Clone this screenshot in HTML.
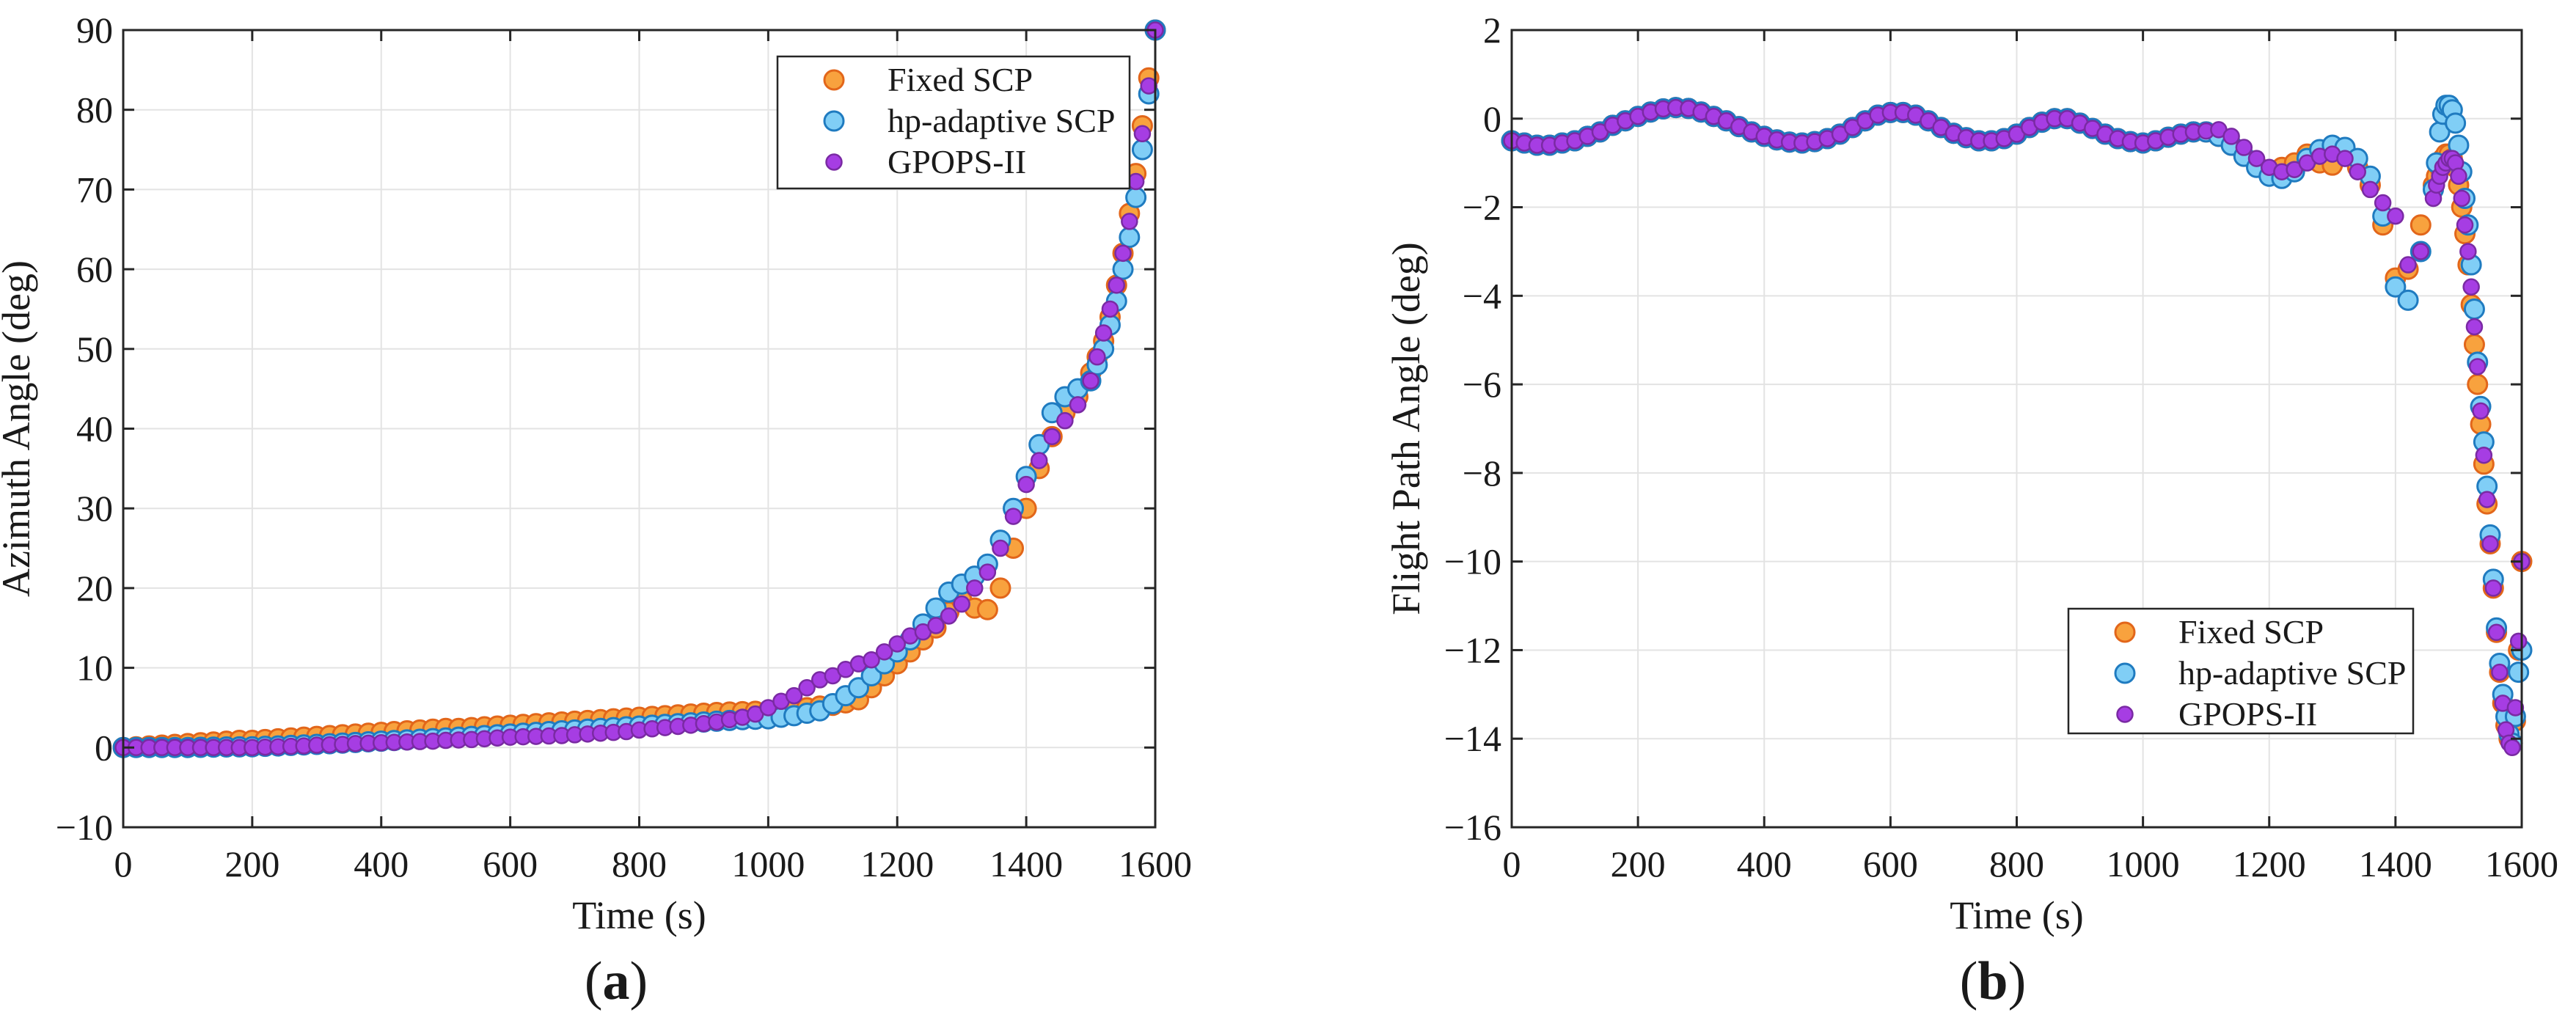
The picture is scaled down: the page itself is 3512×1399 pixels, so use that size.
<!DOCTYPE html>
<html><head><meta charset="utf-8">
<style>
html,body{margin:0;padding:0;background:#fff;}
svg{display:block;}
text{font-family:"Liberation Serif","DejaVu Serif",serif;fill:#1a1a1a;}
</style></head>
<body>
<svg id="fig" width="3512" height="1399" viewBox="0 0 3512 1399" xmlns="http://www.w3.org/2000/svg">
<rect width="3512" height="1399" fill="#fff"/>
</svg>
<script>
// ---------- Panel (a): Azimuth angle ----------
const timeA = [0,20,40,60,80,100,120,140,160,180,200,220,240,260,280,300,320,340,360,380,400,420,440,460,480,500,520,540,560,580,600,620,640,660,680,700,720,740,760,780,800,820,840,860,880,900,920,940,960,980,1000,1020,1040,1060,1080,1100,1120,1140,1160,1180,1200,1220,1240,1260,1280,1300,1320,1340,1360,1380,1400,1420,1440,1460,1480,1500,1510,1520,1530,1540,1550,1560,1570,1580,1590,1600];
const azFixed = [0,0.1,0.2,0.3,0.4,0.5,0.6,0.7,0.8,0.9,0.9,1.0,1.1,1.2,1.3,1.4,1.5,1.6,1.7,1.8,1.9,2.0,2.1,2.2,2.3,2.4,2.4,2.5,2.6,2.7,2.8,2.9,3.0,3.1,3.2,3.3,3.4,3.5,3.6,3.7,3.8,3.9,4.0,4.1,4.2,4.3,4.4,4.45,4.5,4.55,4.6,4.7,4.8,5.0,5.2,5.3,5.6,6.0,7.5,9.0,10.5,12.0,13.5,15.0,17.0,18.5,17.5,17.3,20.0,25.0,30.0,35.0,39.0,42.0,44.0,47.0,49.0,51.0,54.0,58.0,62.0,67.0,72.0,78.0,84.0,90.0];
const azAdaptive = [0,0,0,0,0,0,0.03,0.05,0.07,0.09,0.1,0.15,0.2,0.27,0.33,0.4,0.48,0.56,0.64,0.72,0.8,0.88,0.96,1.04,1.12,1.2,1.3,1.4,1.5,1.6,1.7,1.8,1.9,2.0,2.1,2.2,2.3,2.4,2.5,2.6,2.7,2.8,2.9,3.0,3.1,3.2,3.3,3.4,3.5,3.55,3.6,3.8,4.0,4.3,4.6,5.5,6.5,7.5,9.0,10.5,12.0,13.5,15.5,17.5,19.5,20.5,21.5,23.0,26.0,30.0,34.0,38.0,42.0,44.0,45.0,46.0,48.0,50.0,53.0,56.0,60.0,64.0,69.0,75.0,82.0,90.0];
const azGpops = [0,0,0,0,0,0,0,0,0,0,0,0.05,0.1,0.15,0.2,0.3,0.35,0.4,0.5,0.55,0.6,0.65,0.7,0.75,0.8,0.9,0.95,1.0,1.1,1.2,1.3,1.35,1.4,1.45,1.5,1.6,1.7,1.8,1.9,2.0,2.2,2.35,2.5,2.65,2.8,3.0,3.2,3.5,3.8,4.2,5.0,5.8,6.5,7.5,8.5,9.0,9.8,10.5,11.0,12.0,13.0,14.0,14.5,15.3,16.5,18.0,20.0,22.0,25.0,29.0,33.0,36.0,39.0,41.0,43.0,46.0,49.0,52.0,55.0,58.0,62.0,66.0,71.0,77.0,83.0,90.0];
const ticksAx = [0,200,400,600,800,1000,1200,1400,1600];
const ticksAy = [-10,0,10,20,30,40,50,60,70,80,90];

// ---------- Panel (b): Flight path angle ----------
const timeB = [0,20,40,60,80,100,120,140,160,180,200,220,240,260,280,300,320,340,360,380,400,420,440,460,480,500,520,540,560,580,600,620,640,660,680,700,720,740,760,780,800,820,840,860,880,900,920,940,960,980,1000,1020,1040,1060,1080,1100,1120,1140,1160,1180,1200,1220,1240,1260,1280,1300,1320,1340,1360,1380,1400,1420,1440,1460,1465,1470,1475,1480,1485,1490,1495,1500,1505,1510,1515,1520,1525,1530,1535,1540,1545,1550,1555,1560,1565,1570,1575,1580,1585,1590,1595,1600];
const fpaFixed = [-0.5,-0.55,-0.6,-0.6,-0.55,-0.5,-0.4,-0.3,-0.15,-0.05,0.05,0.15,0.22,0.25,0.23,0.15,0.05,-0.05,-0.18,-0.3,-0.4,-0.48,-0.53,-0.55,-0.52,-0.45,-0.35,-0.2,-0.05,0.08,0.14,0.14,0.08,-0.05,-0.2,-0.33,-0.43,-0.5,-0.5,-0.45,-0.35,-0.2,-0.08,0,0,-0.1,-0.22,-0.35,-0.45,-0.52,-0.55,-0.5,-0.42,-0.35,-0.3,-0.3,-0.4,-0.6,-0.85,-1.05,-1.2,-1.1,-1.0,-0.8,-1.0,-1.05,-0.8,-1.1,-1.5,-2.4,-3.6,-3.4,-2.4,-1.5,-1.3,-1.1,-0.9,-0.8,-0.8,-0.9,-1.1,-1.5,-2.0,-2.6,-3.3,-4.2,-5.1,-6.0,-6.9,-7.8,-8.7,-9.6,-10.6,-11.6,-12.5,-13.2,-13.7,-14.0,-14.1,-13.6,-12.0,-10.0];
const fpaAdaptive = [-0.5,-0.55,-0.6,-0.6,-0.55,-0.5,-0.4,-0.3,-0.15,-0.05,0.05,0.15,0.22,0.25,0.23,0.15,0.05,-0.05,-0.18,-0.3,-0.4,-0.48,-0.53,-0.55,-0.52,-0.45,-0.35,-0.2,-0.05,0.08,0.14,0.14,0.08,-0.05,-0.2,-0.33,-0.43,-0.5,-0.5,-0.45,-0.35,-0.2,-0.08,0,0,-0.1,-0.22,-0.35,-0.45,-0.52,-0.55,-0.5,-0.42,-0.35,-0.3,-0.3,-0.4,-0.6,-0.85,-1.1,-1.3,-1.35,-1.2,-0.9,-0.7,-0.6,-0.65,-0.9,-1.3,-2.2,-3.8,-4.1,-3.0,-1.6,-1.0,-0.3,0.1,0.3,0.3,0.2,-0.1,-0.6,-1.2,-1.8,-2.4,-3.3,-4.3,-5.5,-6.5,-7.3,-8.3,-9.4,-10.4,-11.5,-12.3,-13.0,-13.5,-13.9,-14.1,-13.5,-12.5,-12.0];
const fpaGpops = [-0.5,-0.55,-0.6,-0.6,-0.55,-0.5,-0.4,-0.3,-0.15,-0.05,0.05,0.15,0.22,0.25,0.23,0.15,0.05,-0.05,-0.18,-0.3,-0.4,-0.48,-0.53,-0.55,-0.52,-0.45,-0.35,-0.2,-0.05,0.08,0.14,0.14,0.08,-0.05,-0.2,-0.33,-0.43,-0.5,-0.5,-0.45,-0.35,-0.2,-0.08,0,0,-0.1,-0.22,-0.35,-0.45,-0.52,-0.55,-0.5,-0.42,-0.35,-0.3,-0.28,-0.25,-0.4,-0.65,-0.9,-1.1,-1.2,-1.15,-1.0,-0.85,-0.8,-0.9,-1.2,-1.6,-1.9,-2.2,-3.3,-3.0,-1.8,-1.5,-1.3,-1.1,-1.0,-0.9,-0.9,-1.0,-1.3,-1.8,-2.4,-3.0,-3.8,-4.7,-5.6,-6.6,-7.6,-8.6,-9.6,-10.6,-11.6,-12.5,-13.2,-13.8,-14.1,-14.2,-13.3,-11.8,-10.0];
const ticksBx = [0,200,400,600,800,1000,1200,1400,1600];
const ticksBy = [-16,-14,-12,-10,-8,-6,-4,-2,0,2];

const seriesNames = ["Fixed SCP","hp-adaptive SCP","GPOPS-II"];

const NS = "http://www.w3.org/2000/svg";
const svg = document.getElementById('fig');
function mk(tag, attrs, parent){
  const e = document.createElementNS(NS, tag);
  for (const k in attrs) e.setAttribute(k, attrs[k]);
  (parent||svg).appendChild(e);
  return e;
}
const styles = [
  {fill:"#F8A23E", stroke:"#E2661A", r:13, sw:3},
  {fill:"#80CEF6", stroke:"#1F7BC0", r:13, sw:3},
  {fill:"#A63DE3", stroke:"#7A2AA3", r:10.5, sw:2.5}
];

function fmt(v){ return v<0 ? "\u2212"+Math.abs(v) : String(v); }

function panel(cfg){
  const {id, L, R, T, B, xmin, xmax, ymin, ymax, xt, yt, t, ys, ylabel, letter, legend} = cfg;
  const g = mk('g', {});
  
  
  const sx = v => L + (v - xmin) / (xmax - xmin) * (R - L);
  const sy = v => B - (v - ymin) / (ymax - ymin) * (B - T);
  const grid = mk('g', {}, g);
  
  
  xt.forEach(v => { const gl = mk('line', {x1:sx(v), x2:sx(v), y1:T, y2:B, stroke:"#e3e3e3", 'stroke-width':2}, grid);
      });
  yt.forEach(v => { const gl = mk('line', {x1:L, x2:R, y1:sy(v), y2:sy(v), stroke:"#e3e3e3", 'stroke-width':2}, grid);
      });
  ys.forEach((arr, si) => {
    const sg = mk('g', {}, g);
    
    
    const st = styles[si];
    arr.forEach((v, i) => {
      const c = mk('circle', {cx:sx(t[i]), cy:sy(v), r:st.r, fill:st.fill, stroke:st.stroke, 'stroke-width':st.sw}, sg);
      
      
    });
  });
  const box = mk('rect', {x:L, y:T, width:R-L, height:B-T, fill:"none", stroke:"#262626", 'stroke-width':3}, g);
  
  
  xt.forEach(v => {
    mk('line', {x1:sx(v), x2:sx(v), y1:B, y2:B-15, stroke:"#262626", 'stroke-width':3}, g);
    mk('line', {x1:sx(v), x2:sx(v), y1:T, y2:T+15, stroke:"#262626", 'stroke-width':3}, g);
    const tx = mk('text', {x:sx(v), y:1195, 'text-anchor':'middle', 'font-size':50}, g);
    tx.textContent = fmt(v);
    
    
  });
  yt.forEach(v => {
    mk('line', {x1:L, x2:L+15, y1:sy(v), y2:sy(v), stroke:"#262626", 'stroke-width':3}, g);
    mk('line', {x1:R, x2:R-15, y1:sy(v), y2:sy(v), stroke:"#262626", 'stroke-width':3}, g);
    const tx = mk('text', {x:L-14, y:sy(v)+17, 'text-anchor':'end', 'font-size':50}, g);
    tx.textContent = fmt(v);
    
    
  });
  const xl = mk('text', {x:(L+R)/2, y:1266, 'text-anchor':'middle', 'font-size':54}, g);
  xl.textContent = "Time (s)";
  
  
  const ylx = cfg.ylx, yly = (T+B)/2;
  const yl = mk('text', {x:ylx, y:yly, 'text-anchor':'middle', 'font-size':54, transform:`rotate(-90 ${ylx} ${yly})`}, g);
  yl.textContent = ylabel;
  
  
  const cap = mk('text', {x:cfg.capx, y:1362, 'text-anchor':'middle', 'font-size':74}, g);
  cap.innerHTML = '(<tspan font-weight="bold">' + letter + '</tspan>)';
  
  
  const lg = mk('g', {}, g);
  
  
  mk('rect', {x:legend.x, y:legend.y, width:legend.w, height:legend.h, fill:"#fff", stroke:"#262626", 'stroke-width':2.5}, lg);
  seriesNames.forEach((n, i) => {
    const yy = legend.y + 32 + i * 56;
    const st = styles[i];
    const m = mk('circle', {cx:legend.x+77, cy:yy, r:st.r, fill:st.fill, stroke:st.stroke, 'stroke-width':st.sw}, lg);
    
    
    const tx = mk('text', {x:legend.x+150, y:yy+15, 'font-size':46}, lg);
    tx.textContent = n;
    
    
  });
}

panel({id:'azimuth-chart', L:168, R:1575, T:41, B:1128, xmin:0, xmax:1600, ymin:-10, ymax:90,
  xt:ticksAx, yt:ticksAy, t:timeA, ys:[azFixed, azAdaptive, azGpops],
  ylabel:"Azimuth Angle (deg)", letter:"a", ylx:40, capx:840,
  legend:{x:1060, y:77, w:480, h:180}});
panel({id:'flight-path-chart', L:2061, R:3438, T:41, B:1128, xmin:0, xmax:1600, ymin:-16, ymax:2,
  xt:ticksBx, yt:ticksBy, t:timeB, ys:[fpaFixed, fpaAdaptive, fpaGpops],
  ylabel:"Flight Path Angle (deg)", letter:"b", ylx:1935, capx:2717,
  legend:{x:2820, y:830, w:470, h:170}});
</script>
</body></html>
